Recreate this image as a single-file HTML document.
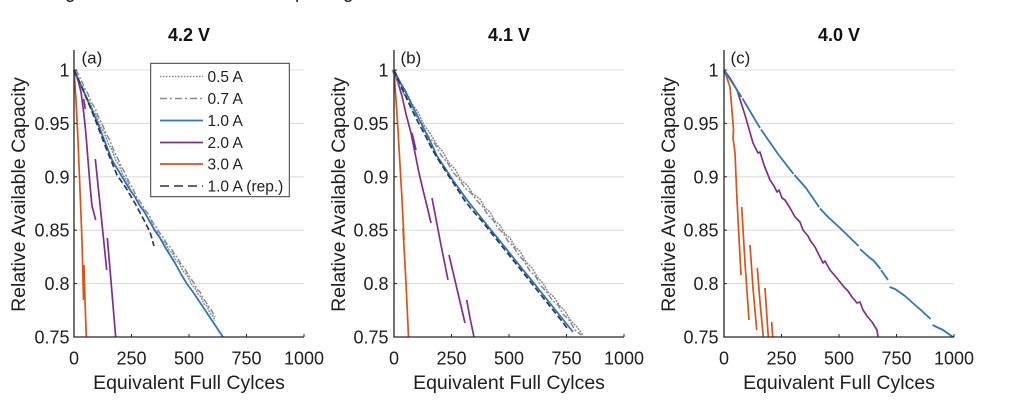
<!DOCTYPE html>
<html>
<head>
<meta charset="utf-8">
<style>
html,body{margin:0;padding:0;background:#fff;}
svg{display:block;}
text{font-family:"Liberation Sans",Arial,sans-serif;fill:#1e1e1e;}
.tk{font-size:18px;}
.lab{font-size:19.5px;}
.ttl{font-size:18px;font-weight:bold;fill:#111;}
.pl{font-size:17px;}
.lg{font-size:15.5px;}
.grid{stroke:#dcdcdc;stroke-width:1.1;}
.ax{stroke:#262626;stroke-width:1.3;fill:none;}
.b{stroke:#2f74bd;stroke-width:1.8;fill:none;stroke-linejoin:round;}
.p{stroke:#7e2f8e;stroke-width:1.7;fill:none;stroke-linejoin:round;}
.o{stroke:#d95319;stroke-width:1.7;fill:none;stroke-linejoin:round;}
.g1{stroke:#8a8a8a;stroke-width:1.5;fill:none;stroke-dasharray:2 1;}
.g2{stroke:#8a8a8a;stroke-width:1.5;fill:none;stroke-dasharray:6 2 2 2;}
.k{stroke:#303848;stroke-width:1.7;fill:none;stroke-dasharray:6 3;}
</style>
</head>
<body>
<svg width="1024" height="404" viewBox="0 0 1024 404" xmlns="http://www.w3.org/2000/svg">
<rect width="1024" height="404" fill="#fff"/>
<text x="65" y="-2" style="font-size:19px">g</text>
<text x="295" y="-2" style="font-size:19px">p</text>
<text x="343" y="-2" style="font-size:19px">g</text>

<!-- ================= PANEL A ================= -->
<g>
<line class="grid" x1="74" y1="70" x2="304" y2="70"/>
<line class="grid" x1="74" y1="123.4" x2="304" y2="123.4"/>
<line class="grid" x1="74" y1="176.8" x2="304" y2="176.8"/>
<line class="grid" x1="74" y1="230.2" x2="304" y2="230.2"/>
<line class="grid" x1="74" y1="283.6" x2="304" y2="283.6"/>
<polyline class="o" points="74,70 76,100 78,140 80,190 82,240 83.5,300"/>
<polyline class="o" points="84,265 85,300 86.3,337"/>
<polyline class="p" points="74,70 78,80 81,92 84,115 86,135 88,160 90,185 92,206 95.7,220"/>
<polyline class="p" points="83.7,99 85.3,109"/>
<polyline class="p" points="95.3,159 101,214 106.7,270"/>
<polyline class="p" points="107.3,238 111.5,287 115.7,337"/>
<polyline class="g1" points="74,70 77,76 80,84 83,88 86,96 89,101 93,110 96,115 100,126 104,132 108,143 112,150 116,161 119,165 123,175 127,181 131,191 135,197 139,205 143,209 147,217 151,222 155,230 157,231 161,239 165,243 169,250 173,254 175,259 179,263 183,271 187,275 192,285 195,288 198,294 201,297 204,304 207,306 210,313 213,316 215,321"/>
<polyline class="g2" transform="translate(2,-1)" points="74,71 77,77 80,83 83,90 86,95 89,103 93,109 96,117 100,125 104,134 108,142 112,152 116,160 119,167 123,174 127,183 131,190 135,199 139,204 143,211 147,216 151,224 155,229 157,233 161,238 165,245 169,249 173,256 175,258 179,265 183,270 187,277 192,284 195,290 198,293 201,299 204,303 207,308 210,312 213,318"/>
<polyline class="b" points="74,70 80,83 86,97 92,110 98,124 105,142 112,160 121,175 130,190 135,197 140,206 145,213 150,222 155,231 160,238 165,247 170,255 175,263 181,274 187,284 193,292 199,301 205,310 211,319 217,328 223,337"/>
<polyline class="k" points="74,70 84,92 95,119 106,148 117,175 126,188 136,205 145,222 150,232 154,246"/>
<line class="ax" x1="74" y1="50" x2="74" y2="337.5"/>
<line class="ax" x1="73.4" y1="337" x2="304" y2="337"/>
<g stroke="#262626" stroke-width="1">
<line x1="131.5" y1="337" x2="131.5" y2="334"/>
<line x1="189" y1="337" x2="189" y2="334"/>
<line x1="246.5" y1="337" x2="246.5" y2="334"/>
<line x1="304" y1="337" x2="304" y2="334"/>
<line x1="74" y1="70" x2="77" y2="70"/>
<line x1="74" y1="123.4" x2="77" y2="123.4"/>
<line x1="74" y1="176.8" x2="77" y2="176.8"/>
<line x1="74" y1="230.2" x2="77" y2="230.2"/>
<line x1="74" y1="283.6" x2="77" y2="283.6"/>
</g>
<g text-anchor="end">
<text class="tk" x="69.5" y="76.5">1</text>
<text class="tk" x="69.5" y="129.9">0.95</text>
<text class="tk" x="69.5" y="183.3">0.9</text>
<text class="tk" x="69.5" y="236.7">0.85</text>
<text class="tk" x="69.5" y="290.1">0.8</text>
<text class="tk" x="69.5" y="343.5">0.75</text>
</g>
<g text-anchor="middle">
<text class="tk" x="74" y="364.5">0</text>
<text class="tk" x="131.5" y="364.5">250</text>
<text class="tk" x="189" y="364.5">500</text>
<text class="tk" x="246.5" y="364.5">750</text>
<text class="tk" x="304" y="364.5">1000</text>
<text class="lab" x="189" y="389">Equivalent Full Cylces</text>
<text class="ttl" x="189" y="41">4.2 V</text>
<text class="lab" transform="translate(25,194.5) rotate(-90)">Relative Available Capacity</text>
</g>
<text class="pl" x="81.5" y="63.5">(a)</text>
<rect x="150.7" y="63.3" width="138.6" height="133.4" fill="#fff" stroke="#3a3a3a" stroke-width="1"/>
<line x1="160" y1="76.5" x2="203" y2="76.5" stroke="#8a8a8a" stroke-width="1.5" stroke-dasharray="1.5 1.5"/>
<line x1="160" y1="98.5" x2="203" y2="98.5" stroke="#8a8a8a" stroke-width="1.5" stroke-dasharray="7 3 2 3"/>
<line x1="160" y1="120.5" x2="203" y2="120.5" stroke="#2f74bd" stroke-width="1.7"/>
<line x1="160" y1="142.5" x2="203" y2="142.5" stroke="#7e2f8e" stroke-width="1.7"/>
<line x1="160" y1="164" x2="203" y2="164" stroke="#d95319" stroke-width="1.7"/>
<line x1="160" y1="186" x2="203" y2="186" stroke="#303030" stroke-width="1.6" stroke-dasharray="9 5"/>
<text class="lg" x="207.5" y="82">0.5 A</text>
<text class="lg" x="207.5" y="104">0.7 A</text>
<text class="lg" x="207.5" y="126">1.0 A</text>
<text class="lg" x="207.5" y="148">2.0 A</text>
<text class="lg" x="207.5" y="169.5">3.0 A</text>
<text class="lg" x="207.5" y="191.5">1.0 A (rep.)</text>
</g>

<!-- ================= PANEL B ================= -->
<g>
<line class="grid" x1="394" y1="70" x2="624" y2="70"/>
<line class="grid" x1="394" y1="123.4" x2="624" y2="123.4"/>
<line class="grid" x1="394" y1="176.8" x2="624" y2="176.8"/>
<line class="grid" x1="394" y1="230.2" x2="624" y2="230.2"/>
<line class="grid" x1="394" y1="283.6" x2="624" y2="283.6"/>
<polyline class="o" points="394,70 396,100 398,130 400,165 402,199 404,240"/>
<polyline class="o" points="403,228 406,283 408.5,337"/>
<polyline class="p" points="394,70 398,83 402,96 406,114 411,133 415,153 419,173 423,190 427,206 431,223"/>
<polyline class="p" points="412,133 416,150"/>
<polyline class="p" points="432,198 440,240 448,280"/>
<polyline class="p" points="449,255 457,289 465,323"/>
<polyline class="p" points="466.7,300 470,318 474,337"/>
<polyline class="g1" points="394,70 400,82 406,91 412,104 418,112 424,125 430,133 437,145 443,152 449,163 455,169 461,180 467,185 473,194 480,199 485,208 490,212 495,221 500,225 505,234 510,238 515,247 520,251 526,262 532,268 538,278 543,283 548,292 554,297 560,306 565,311 571,321 577,327 583,335"/>
<polyline class="g2" transform="translate(-2,1)" points="394,69 400,81 406,93 412,102 418,114 424,123 430,135 437,143 443,154 449,161 455,171 461,178 467,187 473,192 480,201 485,206 490,214 495,219 500,227 505,232 510,240 515,245 520,253 526,260 532,270 538,276 543,285 548,290 554,299 560,304 565,313 571,319 577,329 583,334"/>
<polyline class="b" points="394,70 399,80 404,89 409,99 414,109 420,121 426,133 432,145 437,156 445,168 452,179 460,190 467,200 475,210 483,220 491,230 500,241 508,251 516,261 524,271 533,282 541,292 549,302 557,312 565,322 573,332"/>
<polyline class="k" points="394,70 400,84 406,97 412,110 418,122 424,133 430,145 436,156 443,167 450,178 458,190 465,201 473,211 481,220 489,230 497,240 505,250 513,260 521,270 529,280 537,290 545,300 553,310 561,320 567,328"/>
<line class="ax" x1="394" y1="50" x2="394" y2="337.5"/>
<line class="ax" x1="393.4" y1="337" x2="624" y2="337"/>
<g stroke="#262626" stroke-width="1">
<line x1="451.5" y1="337" x2="451.5" y2="334"/>
<line x1="509" y1="337" x2="509" y2="334"/>
<line x1="566.5" y1="337" x2="566.5" y2="334"/>
<line x1="624" y1="337" x2="624" y2="334"/>
<line x1="394" y1="70" x2="397" y2="70"/>
<line x1="394" y1="123.4" x2="397" y2="123.4"/>
<line x1="394" y1="176.8" x2="397" y2="176.8"/>
<line x1="394" y1="230.2" x2="397" y2="230.2"/>
<line x1="394" y1="283.6" x2="397" y2="283.6"/>
</g>
<g text-anchor="end">
<text class="tk" x="388.5" y="76.5">1</text>
<text class="tk" x="388.5" y="129.9">0.95</text>
<text class="tk" x="388.5" y="183.3">0.9</text>
<text class="tk" x="388.5" y="236.7">0.85</text>
<text class="tk" x="388.5" y="290.1">0.8</text>
<text class="tk" x="388.5" y="343.5">0.75</text>
</g>
<g text-anchor="middle">
<text class="tk" x="394" y="364.5">0</text>
<text class="tk" x="451.5" y="364.5">250</text>
<text class="tk" x="509" y="364.5">500</text>
<text class="tk" x="566.5" y="364.5">750</text>
<text class="tk" x="624" y="364.5">1000</text>
<text class="lab" x="509" y="389">Equivalent Full Cylces</text>
<text class="ttl" x="509" y="41">4.1 V</text>
<text class="lab" transform="translate(345,194.5) rotate(-90)">Relative Available Capacity</text>
</g>
<text class="pl" x="400.5" y="63.5">(b)</text>
</g>

<!-- ================= PANEL C ================= -->
<g>
<line class="grid" x1="724" y1="70" x2="954" y2="70"/>
<line class="grid" x1="724" y1="123.4" x2="954" y2="123.4"/>
<line class="grid" x1="724" y1="176.8" x2="954" y2="176.8"/>
<line class="grid" x1="724" y1="230.2" x2="954" y2="230.2"/>
<line class="grid" x1="724" y1="283.6" x2="954" y2="283.6"/>
<polyline class="o" points="724,70 727,78 730,87 731.5,105 733,123 733.5,130 733,138 734,145 735,153 737,200 739,238 741,275"/>
<polyline class="o" points="741.7,207 745,263 749,320"/>
<polyline class="o" points="750,245 753,288 756.7,330"/>
<polyline class="o" points="757.3,268 760,302 763.3,337"/>
<polyline class="o" points="765,288 768.3,337"/>
<polyline class="o" points="771.7,322 772.7,337"/>
<polyline class="p" points="724,70 730,78 737,90 745,115 753,143 756,149 758,153 760,152 764,165 770,180 774,186 777,192 779,190 782,198 785,200 790,208 795,217 800,222 803,230 808,236 810,240 815,247 819,255 823,263 825,261 830,270 836,277 840,282 844,287 848,291 852,297 857,303 860,302 863,310 867,316 872,322 877,330 878,337"/>
<polyline class="b" points="724,70 741.5,97"/>
<polyline class="b" points="742.5,98.5 760,128"/>
<polyline class="b" points="761,129.5 778,154 793.5,174"/>
<polyline class="b" points="794.5,175 806,188 819,207"/>
<polyline class="b" points="820,208.5 827,216 840,228 858.5,246"/>
<polyline class="b" points="860,249 870,258 874,261 880.5,269"/>
<polyline class="b" points="881,270 888,280"/>
<polyline class="b" points="889.5,287 895,289 905,296 915,305 922,311 930.5,319"/>
<polyline class="b" points="932.5,325 943,330 953,337"/>
<line class="ax" x1="724" y1="50" x2="724" y2="337.5"/>
<line class="ax" x1="723.4" y1="337" x2="954" y2="337"/>
<g stroke="#262626" stroke-width="1">
<line x1="781.5" y1="337" x2="781.5" y2="334"/>
<line x1="839" y1="337" x2="839" y2="334"/>
<line x1="896.5" y1="337" x2="896.5" y2="334"/>
<line x1="954" y1="337" x2="954" y2="334"/>
<line x1="724" y1="70" x2="727" y2="70"/>
<line x1="724" y1="123.4" x2="727" y2="123.4"/>
<line x1="724" y1="176.8" x2="727" y2="176.8"/>
<line x1="724" y1="230.2" x2="727" y2="230.2"/>
<line x1="724" y1="283.6" x2="727" y2="283.6"/>
</g>
<g text-anchor="end">
<text class="tk" x="718.5" y="76.5">1</text>
<text class="tk" x="718.5" y="129.9">0.95</text>
<text class="tk" x="718.5" y="183.3">0.9</text>
<text class="tk" x="718.5" y="236.7">0.85</text>
<text class="tk" x="718.5" y="290.1">0.8</text>
<text class="tk" x="718.5" y="343.5">0.75</text>
</g>
<g text-anchor="middle">
<text class="tk" x="724" y="364.5">0</text>
<text class="tk" x="781.5" y="364.5">250</text>
<text class="tk" x="839" y="364.5">500</text>
<text class="tk" x="896.5" y="364.5">750</text>
<text class="tk" x="954" y="364.5">1000</text>
<text class="lab" x="839" y="389">Equivalent Full Cylces</text>
<text class="ttl" x="839" y="41">4.0 V</text>
<text class="lab" transform="translate(675,194.5) rotate(-90)">Relative Available Capacity</text>
</g>
<text class="pl" x="730.5" y="63.5">(c)</text>
</g>
</svg>
</body>
</html>
